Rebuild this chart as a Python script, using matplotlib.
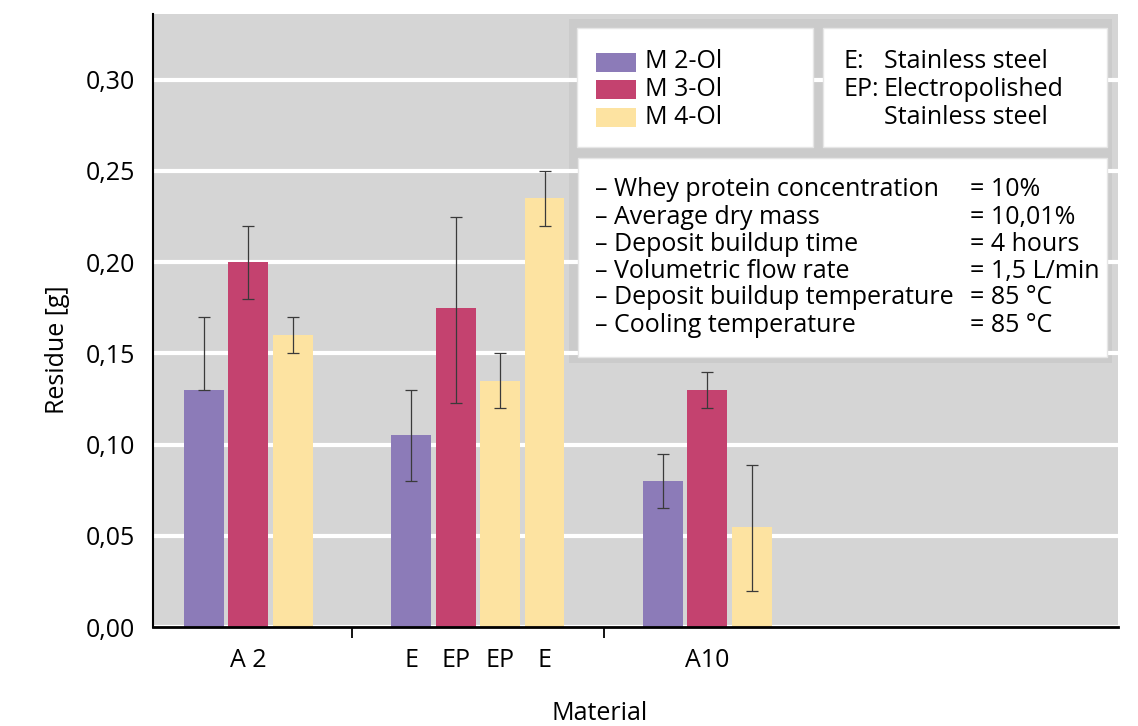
import matplotlib
matplotlib.use('Agg')
import matplotlib.pyplot as plt
from matplotlib.patches import Rectangle
import numpy as np

plt.rcParams['font.family'] = ['Open Sans', 'DejaVu Sans']

# donnees
series = ['M 2-Ol', 'M 3-Ol', 'M 4-Ol']
couleurs = ['#8c7bb8', '#c4426f', '#fde3a1']
groupe = [0, 0, 0, 1, 1, 1, 1, 2, 2, 2]           # A 2 / E,EP,EP,E / A10
serie = [0, 1, 2, 0, 1, 2, 2, 0, 1, 2]
valeurs = [0.130, 0.200, 0.160, 0.105, 0.175, 0.135, 0.235, 0.080, 0.130, 0.055]
err_bas = [0.130, 0.180, 0.150, 0.080, 0.123, 0.120, 0.220, 0.065, 0.120, 0.020]
err_haut = [0.170, 0.220, 0.170, 0.130, 0.225, 0.150, 0.250, 0.095, 0.140, 0.089]
etiquettes_barres = ['', '', '', 'E', 'EP', 'EP', 'E', '', '', '']
etiquettes_groupes = ['A 2', '', 'A10']

conditions = ['– Whey protein concentration', '– Average dry mass',
              '– Deposit buildup time', '– Volumetric flow rate',
              '– Deposit buildup temperature', '– Cooling temperature']
conditions_val = ['= 10%', '= 10,01%', '= 4 hours', '= 1,5 L/min',
                  '= 85 °C', '= 85 °C']

W, H = 1138, 726
FS = 18

def px(x, y):
    # pixels (origine en haut a gauche) -> fraction de figure
    return x / W, 1 - y / H

fig = plt.figure(figsize=(W / 100, H / 100), dpi=100)
ax = fig.add_axes([153 / W, 99 / H, 965 / W, 613 / H])
ax.set_facecolor('#d5d5d5')

ecart = 1.67
x = np.arange(len(valeurs)) + ecart * np.array(groupe)
val = np.array(valeurs)
yerr = np.array([val - np.array(err_bas), np.array(err_haut) - val])

for i in range(len(valeurs)):
    ax.bar(x[i], valeurs[i], width=0.9, color=couleurs[serie[i]], zorder=2)
ax.errorbar(x, val, yerr=yerr, fmt='none', ecolor='#3a3a3a', elinewidth=0.9,
            capsize=4, capthick=0.9, zorder=3)

ax.set_xlim(-1.15, 20.59)
ax.set_ylim(0, 0.336)
ax.set_yticks(np.arange(0, 0.31, 0.05))
ax.set_yticklabels([('%.2f' % v).replace('.', ',') for v in np.arange(0, 0.31, 0.05)])
ax.grid(axis='y', color='white', linewidth=3)
ax.set_axisbelow(True)
ax.tick_params(axis='y', length=4, color='white', width=2, pad=9, labelsize=FS)

# separateurs de groupes (ticks majeurs) et etiquettes (ticks mineurs)
sep = [(x[2] + x[3]) / 2, (x[6] + x[7]) / 2]
ax.set_xticks(sep)
ax.set_xticklabels(['', ''])
ax.tick_params(axis='x', which='major', length=8, width=1.3, color='black')
pos_lab = []
txt_lab = []
for g in range(3):
    if etiquettes_groupes[g]:
        pos_lab.append(x[np.array(groupe) == g].mean())
        txt_lab.append(etiquettes_groupes[g])
for i in range(len(x)):
    if etiquettes_barres[i]:
        pos_lab.append(x[i])
        txt_lab.append(etiquettes_barres[i])
ax.set_xticks(pos_lab, minor=True)
ax.set_xticklabels(txt_lab, minor=True)
ax.tick_params(axis='x', which='minor', length=0, pad=15, labelsize=FS)

for s in ['top', 'right']:
    ax.spines[s].set_visible(False)
ax.spines['left'].set_linewidth(1.5)
ax.spines['bottom'].set_linewidth(2)

fig.text(*px(57, 350), 'Residue [g]', rotation=90, ha='center', va='center', fontsize=FS)
fig.text(*px(600, 714), 'Material', ha='center', va='center', fontsize=FS)

# cadre gris des legendes
x0, y0 = px(569, 363)
cadre = Rectangle((x0, y0), 543 / W, 344 / H, transform=fig.transFigure,
                  facecolor='#cbcbcb', edgecolor='none', zorder=0.4, clip_on=False)
ax.add_patch(cadre)

def boite(xa, ya, xb, yb):
    bx, by = px(xa, yb)
    fig.add_artist(Rectangle((bx, by), (xb - xa) / W, (yb - ya) / H,
                             transform=fig.transFigure, facecolor='white',
                             edgecolor='#e6e6e6', linewidth=1, zorder=5))

boite(577, 28, 813, 147)
boite(823, 28, 1107, 147)
boite(578, 158, 1107, 357)

lignes = [62, 89.5, 117]
for k in range(3):
    bx, by = px(596, lignes[k] + 9.5)
    fig.add_artist(Rectangle((bx, by), 40 / W, 19 / H, transform=fig.transFigure,
                             facecolor=couleurs[k], edgecolor='none', zorder=6))
    fig.text(*px(645, lignes[k]), series[k], ha='left', va='center', fontsize=FS, zorder=7)

fig.text(*px(843, lignes[0]), 'E:', ha='left', va='center', fontsize=FS, zorder=7)
fig.text(*px(843, lignes[1]), 'EP:', ha='left', va='center', fontsize=FS, zorder=7)
fig.text(*px(884, lignes[0]), 'Stainless steel', ha='left', va='center', fontsize=FS, zorder=7)
fig.text(*px(884, lignes[1]), 'Electropolished', ha='left', va='center', fontsize=FS, zorder=7)
fig.text(*px(884, lignes[2]), 'Stainless steel', ha='left', va='center', fontsize=FS, zorder=7)

for k in range(len(conditions)):
    yy = 190 + 27 * k
    fig.text(*px(595, yy), conditions[k], ha='left', va='center', fontsize=FS, zorder=7)
    fig.text(*px(970, yy), conditions_val[k], ha='left', va='center', fontsize=FS, zorder=7)

fig.savefig('out.png', dpi=100, facecolor='white')
